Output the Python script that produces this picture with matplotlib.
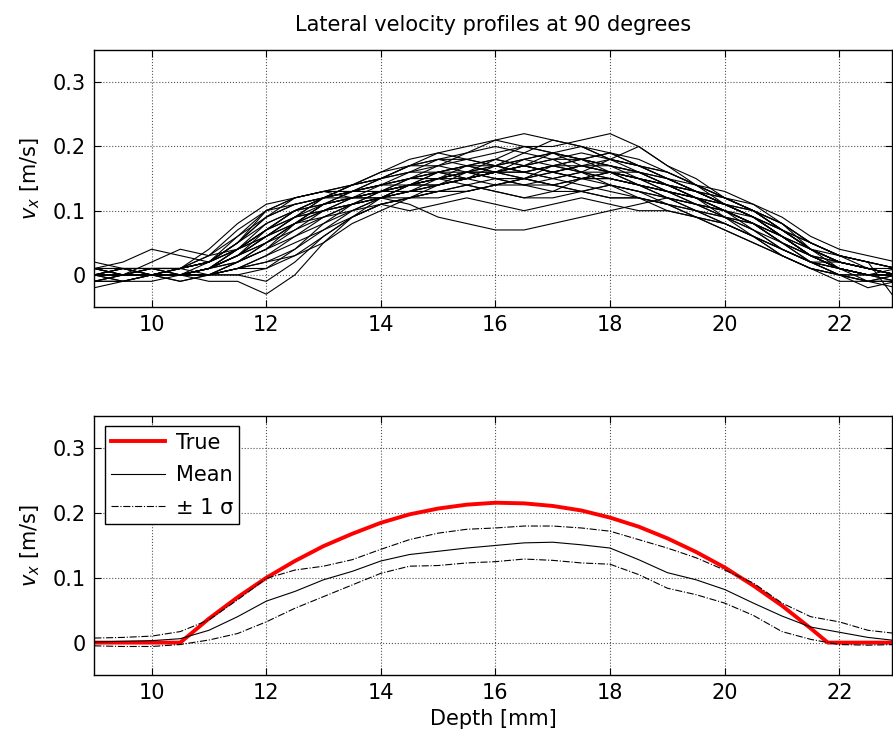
import numpy as np
import matplotlib
matplotlib.use("Agg")
import matplotlib.pyplot as plt

plt.rcParams['font.family'] = ['DejaVu Sans']
plt.rcParams['mathtext.fontset'] = 'dejavusans'

# depth grid of the individual profiles (mm)
depth = [9.0, 9.5, 10.0, 10.5, 11.0, 11.5, 12.0, 12.5, 13.0, 13.5, 14.0, 14.5, 15.0,
         15.5, 16.0, 16.5, 17.0, 17.5, 18.0, 18.5, 19.0, 19.5, 20.0, 20.5, 21.0,
         21.5, 22.0, 22.5, 23.0]

# individual lateral velocity estimates (m/s)
profiles = [
    [0.00, 0.00, 0.01, 0.00, 0.01, 0.03, 0.06, 0.09, 0.10, 0.11, 0.12, 0.13, 0.14, 0.15, 0.16, 0.15, 0.16, 0.17, 0.16, 0.15, 0.14, 0.12, 0.10, 0.08, 0.05, 0.02, 0.01, 0.00, 0.00],
    [0.01, 0.00, 0.00, 0.01, 0.02, 0.05, 0.08, 0.10, 0.11, 0.13, 0.14, 0.14, 0.15, 0.17, 0.18, 0.17, 0.16, 0.15, 0.16, 0.14, 0.12, 0.11, 0.09, 0.07, 0.04, 0.02, 0.02, 0.01, 0.00],
    [-0.01, 0.00, 0.00, 0.00, 0.00, 0.01, 0.03, 0.05, 0.07, 0.09, 0.11, 0.12, 0.13, 0.13, 0.14, 0.15, 0.14, 0.13, 0.12, 0.12, 0.11, 0.10, 0.08, 0.06, 0.04, 0.02, 0.00, 0.00, -0.01],
    [0.02, 0.01, 0.00, 0.01, 0.04, 0.08, 0.11, 0.12, 0.13, 0.13, 0.14, 0.16, 0.18, 0.19, 0.20, 0.19, 0.18, 0.18, 0.19, 0.17, 0.15, 0.13, 0.11, 0.09, 0.07, 0.04, 0.02, 0.01, 0.00],
    [0.00, 0.01, 0.00, -0.01, 0.00, 0.02, 0.04, 0.08, 0.11, 0.12, 0.12, 0.11, 0.09, 0.08, 0.07, 0.07, 0.08, 0.09, 0.10, 0.11, 0.12, 0.11, 0.10, 0.08, 0.05, 0.03, 0.01, 0.00, 0.00],
    [0.00, 0.00, 0.02, 0.04, 0.03, 0.04, 0.07, 0.10, 0.12, 0.14, 0.15, 0.16, 0.17, 0.19, 0.21, 0.22, 0.21, 0.20, 0.19, 0.17, 0.16, 0.14, 0.12, 0.10, 0.07, 0.04, 0.02, 0.01, 0.00],
    [0.01, 0.01, 0.00, 0.00, 0.00, 0.00, -0.01, 0.02, 0.06, 0.09, 0.12, 0.14, 0.15, 0.16, 0.17, 0.18, 0.17, 0.16, 0.15, 0.14, 0.13, 0.12, 0.11, 0.09, 0.06, 0.03, 0.01, 0.00, 0.01],
    [0.00, -0.01, 0.00, 0.00, 0.01, 0.04, 0.07, 0.09, 0.12, 0.13, 0.14, 0.15, 0.15, 0.16, 0.15, 0.14, 0.15, 0.16, 0.18, 0.20, 0.17, 0.14, 0.11, 0.09, 0.06, 0.03, 0.01, 0.00, -0.01],
    [-0.01, -0.01, 0.00, 0.00, 0.00, 0.02, 0.05, 0.07, 0.09, 0.10, 0.12, 0.14, 0.16, 0.15, 0.14, 0.15, 0.17, 0.18, 0.17, 0.15, 0.13, 0.11, 0.10, 0.08, 0.06, 0.03, 0.01, -0.01, -0.02],
    [0.00, 0.00, 0.01, 0.01, 0.02, 0.06, 0.10, 0.12, 0.13, 0.14, 0.15, 0.16, 0.16, 0.15, 0.16, 0.18, 0.19, 0.18, 0.17, 0.16, 0.15, 0.13, 0.12, 0.10, 0.08, 0.05, 0.03, 0.02, 0.01],
    [0.01, 0.00, 0.00, -0.01, 0.00, 0.01, 0.02, 0.03, 0.06, 0.09, 0.11, 0.12, 0.12, 0.13, 0.14, 0.14, 0.13, 0.13, 0.14, 0.13, 0.11, 0.09, 0.07, 0.05, 0.03, 0.01, 0.00, 0.00, 0.00],
    [0.00, 0.01, 0.01, 0.00, 0.01, 0.03, 0.07, 0.10, 0.11, 0.12, 0.13, 0.15, 0.16, 0.17, 0.17, 0.16, 0.17, 0.18, 0.17, 0.16, 0.14, 0.13, 0.11, 0.10, 0.08, 0.04, 0.02, 0.01, 0.00],
    [-0.01, 0.00, 0.00, 0.00, 0.01, 0.02, 0.04, 0.06, 0.08, 0.10, 0.11, 0.10, 0.11, 0.12, 0.11, 0.10, 0.11, 0.12, 0.11, 0.10, 0.10, 0.09, 0.08, 0.06, 0.03, 0.01, 0.00, -0.01, -0.01],
    [0.00, 0.00, 0.00, 0.01, 0.02, 0.04, 0.06, 0.08, 0.10, 0.12, 0.13, 0.13, 0.14, 0.16, 0.18, 0.20, 0.19, 0.18, 0.19, 0.18, 0.16, 0.14, 0.12, 0.10, 0.07, 0.05, 0.03, 0.02, 0.01],
    [0.01, 0.01, 0.01, 0.01, 0.00, 0.00, 0.01, 0.04, 0.08, 0.11, 0.13, 0.14, 0.15, 0.16, 0.16, 0.17, 0.16, 0.15, 0.14, 0.13, 0.12, 0.11, 0.10, 0.07, 0.04, 0.02, 0.00, -0.01, 0.00],
    [0.00, 0.00, 0.00, 0.01, 0.03, 0.06, 0.09, 0.11, 0.12, 0.12, 0.13, 0.14, 0.15, 0.15, 0.16, 0.17, 0.18, 0.16, 0.14, 0.12, 0.10, 0.09, 0.08, 0.06, 0.04, 0.02, 0.01, 0.00, 0.00],
    [0.00, 0.00, 0.00, 0.00, 0.01, 0.03, 0.05, 0.08, 0.11, 0.13, 0.15, 0.17, 0.18, 0.18, 0.17, 0.16, 0.15, 0.16, 0.16, 0.15, 0.14, 0.12, 0.11, 0.09, 0.06, 0.03, 0.02, 0.01, 0.00],
    [-0.01, -0.01, 0.00, 0.00, 0.01, 0.03, 0.06, 0.09, 0.10, 0.11, 0.12, 0.14, 0.15, 0.14, 0.13, 0.12, 0.13, 0.15, 0.16, 0.16, 0.14, 0.12, 0.09, 0.07, 0.05, 0.03, 0.01, 0.00, 0.00],
    [0.00, 0.00, 0.01, 0.01, 0.02, 0.05, 0.09, 0.12, 0.13, 0.12, 0.13, 0.15, 0.17, 0.18, 0.19, 0.20, 0.19, 0.17, 0.16, 0.15, 0.14, 0.13, 0.11, 0.09, 0.06, 0.03, 0.01, 0.00, 0.00],
    [0.00, 0.00, 0.00, 0.00, 0.00, 0.01, 0.02, 0.04, 0.07, 0.10, 0.12, 0.13, 0.13, 0.14, 0.15, 0.15, 0.14, 0.15, 0.15, 0.14, 0.13, 0.12, 0.10, 0.09, 0.07, 0.05, 0.03, 0.02, -0.04],
    [0.01, 0.02, 0.04, 0.03, 0.02, 0.05, 0.09, 0.11, 0.12, 0.13, 0.14, 0.15, 0.16, 0.16, 0.17, 0.16, 0.17, 0.17, 0.16, 0.15, 0.13, 0.12, 0.10, 0.08, 0.05, 0.03, 0.02, 0.01, 0.01],
    [-0.02, -0.01, -0.01, 0.00, 0.00, 0.01, 0.01, 0.03, 0.05, 0.08, 0.10, 0.12, 0.14, 0.15, 0.16, 0.16, 0.15, 0.14, 0.13, 0.12, 0.11, 0.09, 0.07, 0.05, 0.03, 0.01, -0.01, -0.01, 0.00],
    [0.00, 0.00, 0.00, 0.00, 0.02, 0.05, 0.10, 0.12, 0.13, 0.14, 0.15, 0.17, 0.19, 0.20, 0.21, 0.20, 0.20, 0.21, 0.22, 0.20, 0.17, 0.15, 0.12, 0.10, 0.07, 0.04, 0.02, 0.01, 0.00],
    [0.00, 0.00, 0.01, 0.00, -0.01, -0.01, -0.03, 0.00, 0.05, 0.09, 0.11, 0.12, 0.13, 0.13, 0.14, 0.15, 0.14, 0.13, 0.12, 0.12, 0.11, 0.10, 0.09, 0.08, 0.06, 0.04, 0.01, 0.00, 0.00],
    [0.00, 0.00, 0.00, 0.01, 0.03, 0.07, 0.10, 0.11, 0.12, 0.14, 0.16, 0.17, 0.17, 0.16, 0.16, 0.17, 0.18, 0.19, 0.18, 0.17, 0.15, 0.14, 0.12, 0.10, 0.07, 0.04, 0.02, 0.01, 0.00],
    [0.01, 0.00, 0.00, 0.00, 0.01, 0.02, 0.05, 0.08, 0.10, 0.11, 0.12, 0.12, 0.13, 0.14, 0.13, 0.12, 0.12, 0.13, 0.14, 0.13, 0.12, 0.10, 0.08, 0.06, 0.04, 0.02, 0.01, 0.00, 0.00],
    [0.00, 0.01, 0.00, 0.00, 0.01, 0.04, 0.08, 0.10, 0.12, 0.13, 0.15, 0.17, 0.18, 0.17, 0.16, 0.17, 0.19, 0.20, 0.18, 0.16, 0.14, 0.13, 0.12, 0.11, 0.09, 0.06, 0.04, 0.03, 0.02],
    [-0.01, 0.00, 0.00, 0.00, 0.01, 0.03, 0.06, 0.08, 0.09, 0.11, 0.13, 0.14, 0.14, 0.15, 0.16, 0.17, 0.16, 0.15, 0.15, 0.14, 0.12, 0.10, 0.09, 0.08, 0.05, 0.02, 0.00, -0.01, -0.01],
    [0.00, 0.00, 0.00, 0.00, 0.00, 0.02, 0.04, 0.07, 0.10, 0.12, 0.14, 0.15, 0.16, 0.17, 0.18, 0.17, 0.16, 0.17, 0.18, 0.17, 0.15, 0.13, 0.11, 0.09, 0.06, 0.03, 0.01, 0.00, 0.00],
    [0.01, 0.00, 0.00, 0.01, 0.02, 0.04, 0.07, 0.09, 0.11, 0.12, 0.12, 0.13, 0.15, 0.16, 0.15, 0.14, 0.14, 0.15, 0.16, 0.15, 0.14, 0.12, 0.10, 0.08, 0.06, 0.04, 0.03, 0.02, 0.01],
    [0.00, 0.00, 0.00, 0.00, 0.01, 0.04, 0.07, 0.10, 0.12, 0.14, 0.16, 0.18, 0.19, 0.18, 0.17, 0.18, 0.19, 0.18, 0.16, 0.14, 0.13, 0.12, 0.11, 0.10, 0.08, 0.05, 0.03, 0.01, 0.00],
    [0.00, 0.00, 0.00, 0.00, 0.00, 0.01, 0.03, 0.06, 0.09, 0.11, 0.12, 0.13, 0.14, 0.15, 0.16, 0.16, 0.17, 0.16, 0.15, 0.14, 0.13, 0.11, 0.09, 0.06, 0.03, 0.01, 0.00, -0.02, -0.01],
    [0.00, 0.01, 0.01, 0.01, 0.02, 0.04, 0.06, 0.09, 0.12, 0.13, 0.13, 0.14, 0.14, 0.15, 0.17, 0.19, 0.21, 0.20, 0.18, 0.17, 0.16, 0.14, 0.13, 0.11, 0.08, 0.05, 0.03, 0.02, 0.01],
    [0.00, -0.01, 0.00, 0.00, 0.01, 0.03, 0.05, 0.08, 0.11, 0.12, 0.13, 0.14, 0.16, 0.17, 0.16, 0.15, 0.16, 0.17, 0.17, 0.16, 0.15, 0.13, 0.11, 0.09, 0.07, 0.04, 0.02, 0.01, 0.00],
]

# true (parabolic) profile
true_depth = [9.0, 10.5, 11.0, 11.5, 12.0, 12.5, 13.0, 13.5, 14.0, 14.5, 15.0, 15.5, 16.0,
              16.5, 17.0, 17.5, 18.0, 18.5, 19.0, 19.5, 20.0, 20.5, 21.0, 21.5, 21.8, 23.0]
true_vel = [0.0, 0.0, 0.037, 0.070, 0.100, 0.126, 0.149, 0.168, 0.185, 0.198, 0.207, 0.213, 0.216,
            0.215, 0.211, 0.204, 0.193, 0.179, 0.161, 0.140, 0.116, 0.088, 0.057, 0.022, 0.0, 0.0]

# mean and +/- 1 std of the estimates
mean_vel = [0.001, 0.002, 0.003, 0.006, 0.019, 0.040, 0.064, 0.079, 0.097, 0.110, 0.126, 0.136, 0.141,
            0.146, 0.150, 0.154, 0.155, 0.151, 0.146, 0.128, 0.108, 0.097, 0.082, 0.061, 0.041,
            0.024, 0.016, 0.008, 0.003]
upper_vel = [0.007, 0.008, 0.010, 0.017, 0.035, 0.066, 0.099, 0.112, 0.118, 0.128, 0.144, 0.159, 0.169,
             0.175, 0.177, 0.180, 0.180, 0.177, 0.172, 0.159, 0.146, 0.131, 0.112, 0.092, 0.061,
             0.040, 0.032, 0.019, 0.014]
lower_vel = [-0.005, -0.006, -0.006, -0.003, 0.004, 0.014, 0.032, 0.053, 0.071, 0.089, 0.107, 0.118, 0.119,
             0.123, 0.125, 0.129, 0.127, 0.123, 0.121, 0.105, 0.084, 0.074, 0.061, 0.042, 0.017,
             0.005, -0.003, -0.004, -0.003]

yticks = [0, 0.1, 0.2, 0.3]
yticklabels = ['0', '0.1', '0.2', '0.3']
xticks = [10, 12, 14, 16, 18, 20, 22]

FS = 15

fig = plt.figure(figsize=(8.93, 7.38), dpi=100)
ax1 = fig.add_axes([0.1056, 0.584, 0.8933, 0.348])
ax2 = fig.add_axes([0.1056, 0.0854, 0.8933, 0.351])


def style(ax):
    ax.set_xlim(9, 22.92)
    ax.set_ylim(-0.05, 0.35)
    ax.set_xticks(xticks)
    ax.set_yticks(yticks)
    ax.set_yticklabels(yticklabels)
    ax.tick_params(direction='in', top=True, right=True, length=5, width=0.8,
                   labelsize=FS, pad=6)
    ax.grid(True, linestyle=':', color='#555555', linewidth=0.8)
    for s in ax.spines.values():
        s.set_linewidth(1.0)
    ax.set_ylabel(r'$v_x$ [m/s]', fontsize=FS, labelpad=8)


for prof in profiles:
    ax1.plot(depth, prof, color='black', linewidth=0.8)
style(ax1)
ax1.set_title('Lateral velocity profiles at 90 degrees', fontsize=FS, pad=14)

ax2.plot(true_depth, true_vel, color='red', linewidth=2.8, label='True')
ax2.plot(depth, mean_vel, color='black', linewidth=0.8, label='Mean')
ax2.plot(depth, upper_vel, color='black', linewidth=0.8, linestyle='-.', label='± 1 σ')
ax2.plot(depth, lower_vel, color='black', linewidth=0.8, linestyle='-.')
style(ax2)
ax2.set_xlabel('Depth [mm]', fontsize=FS, labelpad=4)
leg = ax2.legend(loc='upper left', fontsize=FS, fancybox=False, framealpha=1,
                 edgecolor='black', handlelength=2.6, labelspacing=0.6,
                 borderaxespad=0.5, handletextpad=0.5, borderpad=0.3)
leg.get_frame().set_linewidth(1.0)

fig.savefig('out.png', dpi=100)
